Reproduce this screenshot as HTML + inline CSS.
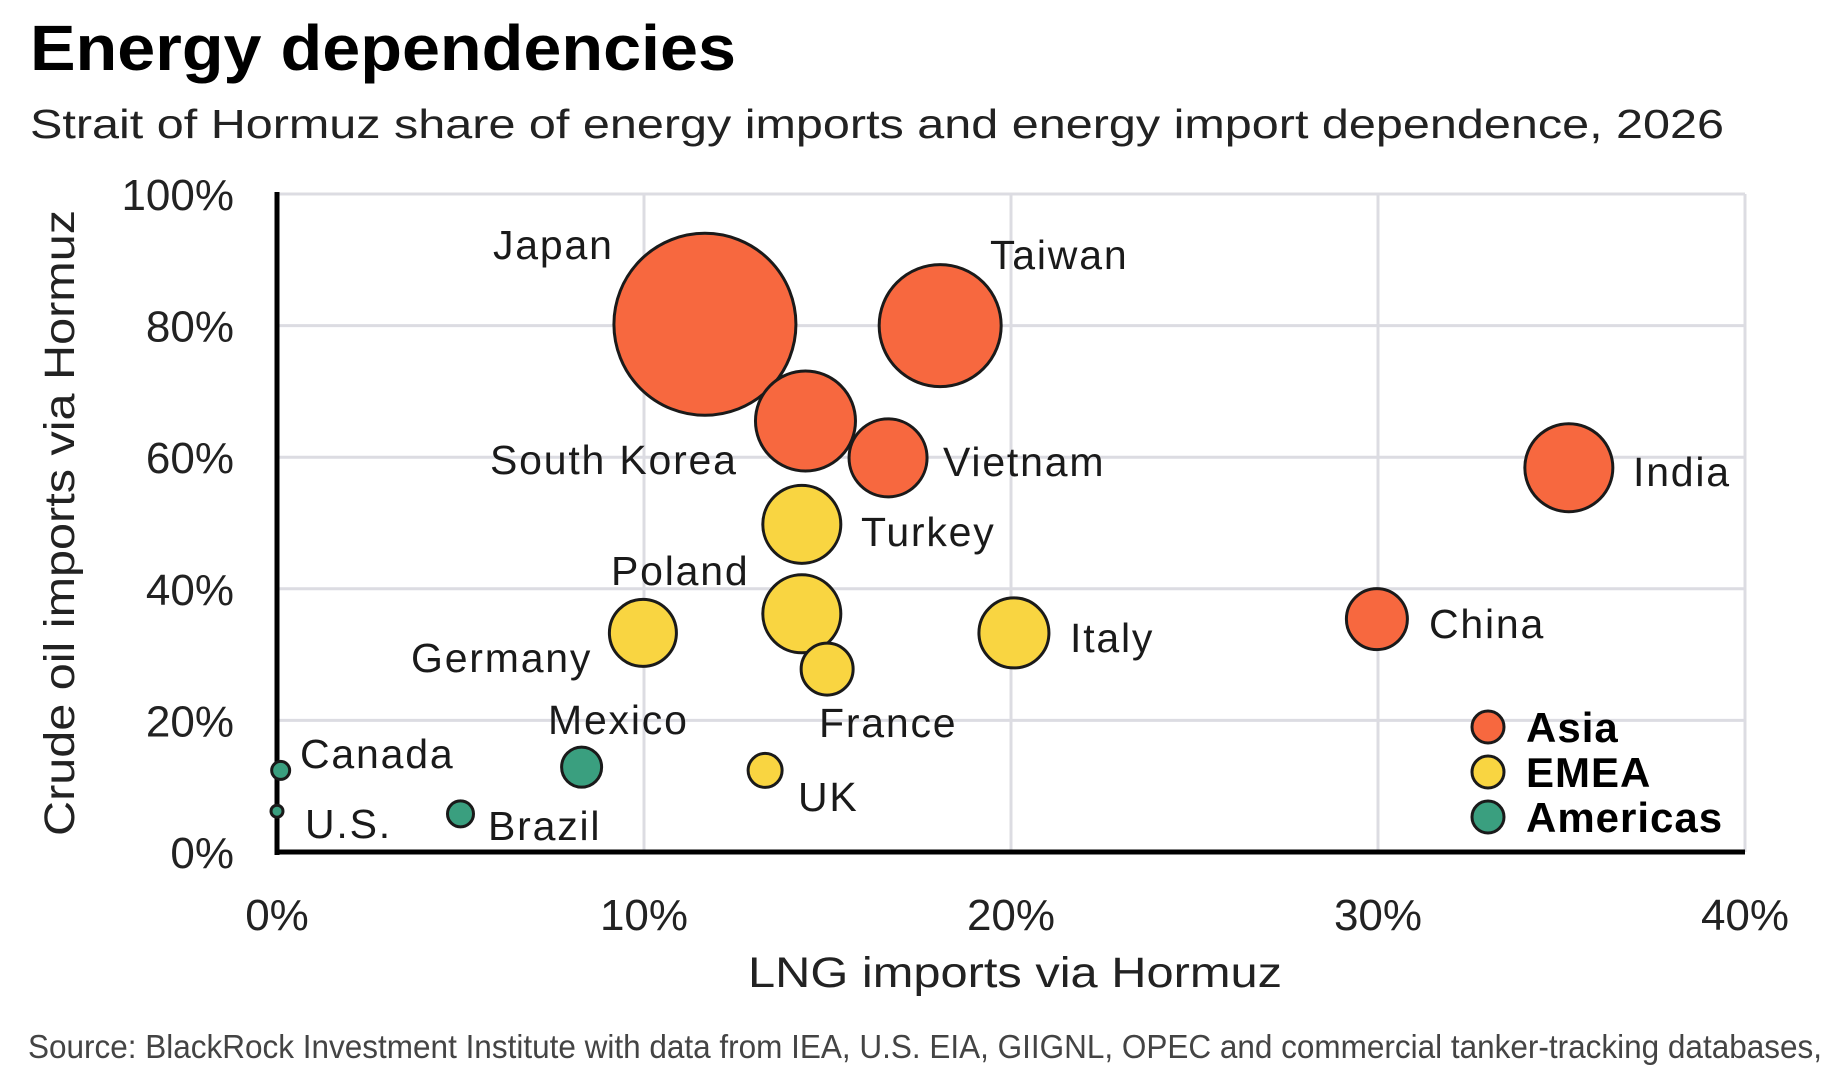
<!DOCTYPE html>
<html><head><meta charset="utf-8"><style>
html,body{margin:0;padding:0;background:#fff;}
svg{display:block;font-family:"Liberation Sans",sans-serif;}
</style></head><body>
<svg id="chart" width="1842" height="1068" viewBox="0 0 1842 1068">
<text x="30" y="70" font-size="64" font-weight="bold" textLength="706" lengthAdjust="spacingAndGlyphs" fill="#000">Energy dependencies</text>
<text x="30" y="138" font-size="41" textLength="1694" lengthAdjust="spacingAndGlyphs" fill="#222">Strait of Hormuz share of energy imports and energy import dependence, 2026</text>
<g id="grid"></g>
<g id="axes"></g>
<g id="bubbles"></g>
<g id="labels"></g>
<g id="legend"></g>
<text x="1015" y="987" font-size="43" text-anchor="middle" textLength="534" lengthAdjust="spacingAndGlyphs" fill="#222">LNG imports via Hormuz</text>
<text transform="translate(74,523) rotate(-90)" font-size="43" text-anchor="middle" textLength="626" lengthAdjust="spacingAndGlyphs" fill="#222">Crude oil imports via Hormuz</text>
<text x="28" y="1058" font-size="33" textLength="1794" lengthAdjust="spacingAndGlyphs" fill="#444">Source: BlackRock Investment Institute with data from IEA, U.S. EIA, GIIGNL, OPEC and commercial tanker-tracking databases,</text>
</svg>
<script>
const countries = ["Japan","Taiwan","South Korea","Vietnam","India","China","Turkey","Poland","Germany","France","Italy","UK","Mexico","Brazil","Canada","U.S."];
const lngShare = [11.66,18.07,14.4,16.65,35.2,29.97,14.3,14.3,9.97,14.99,20.08,13.3,8.3,5.0,0.1,0.0];
const oilShare = [80.2,80.0,65.5,59.9,58.4,35.4,49.8,36.2,33.3,27.8,33.3,12.4,12.9,5.8,12.4,6.2];
const bubbleSize = [91,61,50,39,44,30.5,39,39,33.5,26,35,17,20,13,9,6];
const regions = ["Asia","Asia","Asia","Asia","Asia","Asia","EMEA","EMEA","EMEA","EMEA","EMEA","EMEA","Americas","Americas","Americas","Americas"];
const xTicks = [0,10,20,30,40];
const yTicks = [0,20,40,60,80,100];
const legendItems = ["Asia","EMEA","Americas"];

const colors = {Asia:"#f7683f",EMEA:"#f9d541",Americas:"#3a9f7f"};
const X0=277, X1=1745, Y0=852, Y1=194;
const xs = v => X0 + (v/40)*(X1-X0);
const ys = v => Y0 - (v/100)*(Y0-Y1);
const rs = v => v;
const NS="http://www.w3.org/2000/svg";
function mk(tag, attrs, parent){const e=document.createElementNS(NS,tag);for(const k in attrs)e.setAttribute(k,attrs[k]);parent.appendChild(e);return e;}

const grid=document.getElementById('grid'), axes=document.getElementById('axes');
xTicks.forEach(t=>{
  if(t>0){const l=mk('line',{x1:xs(t),x2:xs(t),y1:Y1,y2:Y0,stroke:"#dcdce2","stroke-width":3},grid);
  
  }
  const tx=mk('text',{x:xs(t),y:930,"font-size":44,"text-anchor":"middle",fill:"#222"},axes);
  tx.textContent=t+"%";
  
  
});
yTicks.forEach(t=>{
  if(t>0){const l=mk('line',{x1:X0,x2:X1,y1:ys(t),y2:ys(t),stroke:"#dcdce2","stroke-width":3},grid);
  
  }
  const tx=mk('text',{x:234,y:ys(t)+16,"font-size":44,"text-anchor":"end",fill:"#222"},axes);
  tx.textContent=t+"%";
  
  
});
const ya=mk('line',{x1:X0,x2:X0,y1:Y1-2,y2:Y0+3,stroke:"#000","stroke-width":5},axes);


const xa=mk('line',{x1:X0-2,x2:X1,y1:Y0,y2:Y0,stroke:"#000","stroke-width":5},axes);



const bub=document.getElementById('bubbles');
countries.forEach((c,i)=>{
  const ci=mk('circle',{cx:xs(lngShare[i]),cy:ys(oilShare[i]),r:rs(bubbleSize[i]),fill:colors[regions[i]],stroke:"#1a1a1a","stroke-width":3},bub);
  
  
});

const labelPos = [[493,259],[990,269],[490,474],[943,476],[1633,486],[1429,638],[861,546],[611,585],[411,672],[819,737],[1070,652],[798,811],[548,734],[488,840],[300,768],[305,838]];
const lab=document.getElementById('labels');
countries.forEach((c,i)=>{
  const t=mk('text',{x:labelPos[i][0],y:labelPos[i][1],"font-size":41,fill:"#1a1a1a","letter-spacing":"1.8"},lab);
  t.textContent=c;
  
  
});

const leg=document.getElementById('legend');
legendItems.forEach((r,i)=>{
  const y=727+i*45;
  const c=mk('circle',{cx:1488,cy:y,r:16,fill:colors[r],stroke:"#1a1a1a","stroke-width":3},leg);
  
  
  const t=mk('text',{x:1526,y:y+15,"font-size":42,"font-weight":"bold",fill:"#000","letter-spacing":"1"},leg);
  t.textContent=r;
  
  
});
</script>
</body></html>
